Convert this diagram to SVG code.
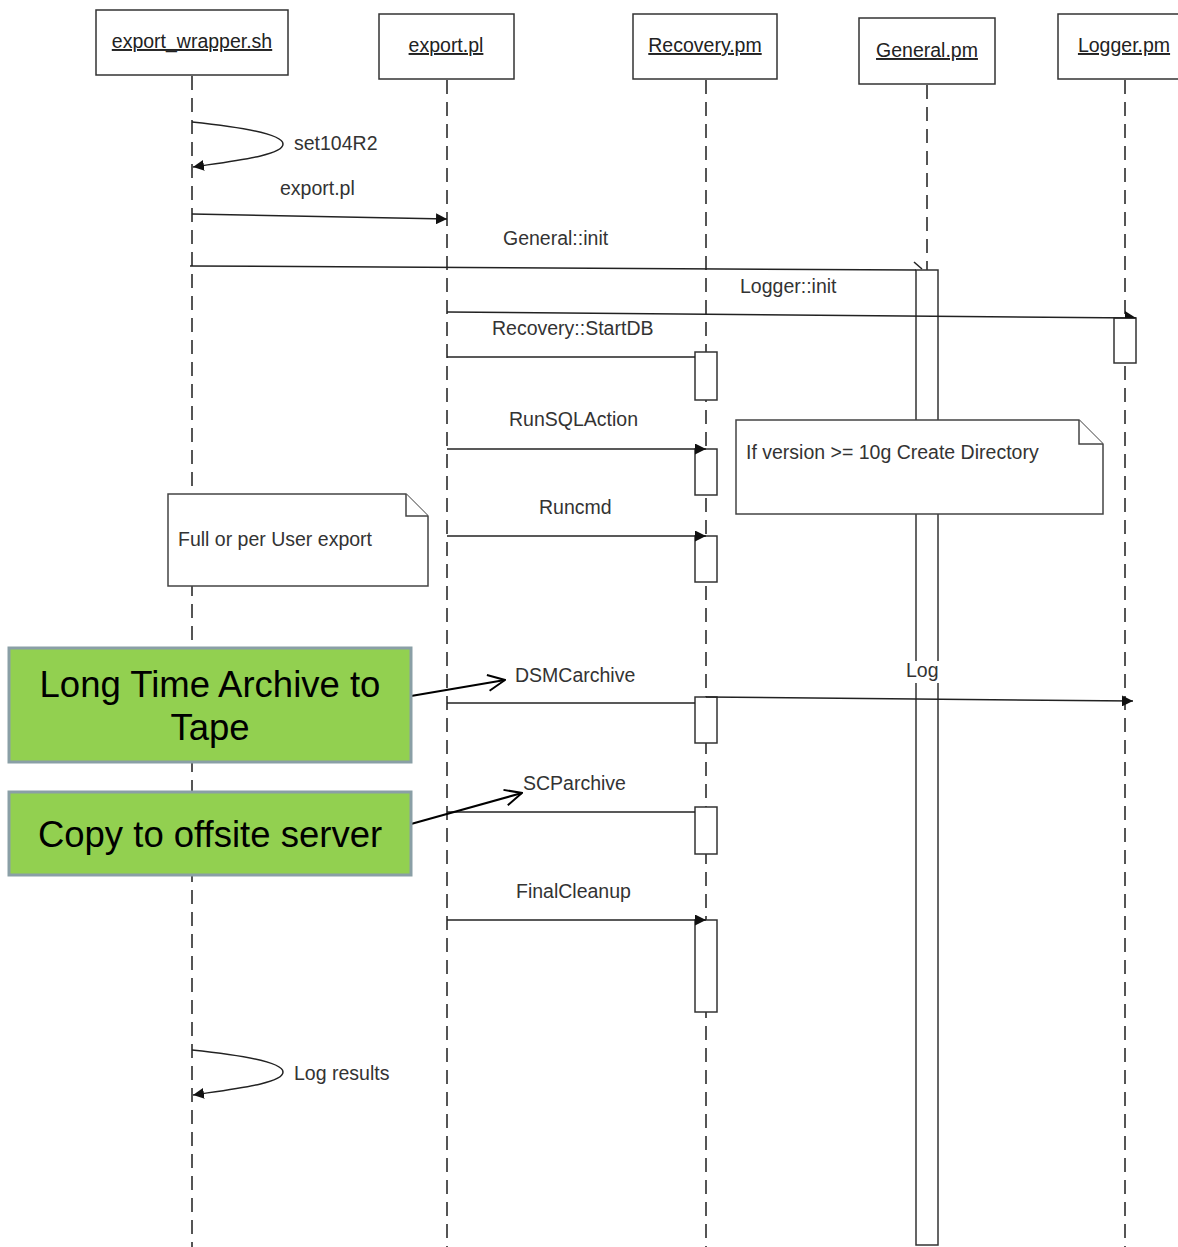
<svg xmlns="http://www.w3.org/2000/svg" width="1178" height="1247" viewBox="0 0 1178 1247">
<style>
.box{fill:#fff;stroke:#333;stroke-width:1.5}
.hdr{font-family:"Liberation Sans",Arial,sans-serif;font-size:19.5px;fill:#222;text-decoration:underline}
.life{stroke:#555;stroke-width:2;stroke-dasharray:14,8;fill:none}
.msg{stroke:#222;stroke-width:1.5;fill:none}
.lbl{font-family:"Liberation Sans",Arial,sans-serif;font-size:19.5px;fill:#333}
.act{fill:#fff;stroke:#333;stroke-width:1.5}
.note{fill:#fff;stroke:#444;stroke-width:1.5}
.green{fill:#92D050;stroke:#8A9FA6;stroke-width:3}
.big{font-family:"Liberation Sans",Arial,sans-serif;font-size:36.5px;fill:#000;text-anchor:middle}
.ptr{stroke:#000;stroke-width:2;fill:none}
</style>
<defs>
<marker id="fa" viewBox="0 0 10 10" refX="10" refY="5" markerWidth="11" markerHeight="11" markerUnits="userSpaceOnUse" orient="auto">
<path d="M0,0 L10,5 L0,10 z" fill="#111"/>
</marker>
<marker id="oa" viewBox="0 0 20 20" refX="19" refY="10" markerWidth="20" markerHeight="20" markerUnits="userSpaceOnUse" orient="auto">
<path d="M2,2 L19,10 L2,18" fill="none" stroke="#000" stroke-width="2"/>
</marker>
</defs>
<rect width="1178" height="1247" fill="#fff"/>
<g id="lifelines">
<line class="life" x1="192" y1="76" x2="192" y2="1247"/>
<line class="life" x1="447" y1="80" x2="447" y2="1247"/>
<line class="life" x1="706" y1="80" x2="706" y2="1247"/>
<line class="life" x1="927" y1="85" x2="927" y2="270"/>
<line class="life" x1="1125" y1="80" x2="1125" y2="1247"/>
</g>
<g id="export_wrapper"><rect class="box" x="96" y="10" width="192" height="65"/><text class="hdr" x="192" y="48" text-anchor="middle">export_wrapper.sh</text></g>
<g id="export_pl"><rect class="box" x="379" y="14" width="135" height="65"/><text class="hdr" x="446" y="52" text-anchor="middle">export.pl</text></g>
<g id="recovery"><rect class="box" x="633" y="14" width="144" height="65"/><text class="hdr" x="705" y="52" text-anchor="middle">Recovery.pm</text></g>
<g id="general"><rect class="box" x="859" y="18" width="136" height="66"/><text class="hdr" x="927" y="57" text-anchor="middle">General.pm</text></g>
<g id="logger"><rect class="box" x="1058" y="14" width="125" height="65"/><text class="hdr" x="1124" y="52" text-anchor="middle">Logger.pm</text></g>
<g id="activations">
<rect class="act" x="916" y="270" width="22" height="975"/>
<rect class="act" x="1114" y="318" width="22" height="45"/>
<rect class="act" x="695" y="352" width="22" height="48"/>
<rect class="act" x="695" y="449" width="22" height="46"/>
<rect class="act" x="695" y="536" width="22" height="46"/>
<rect class="act" x="695" y="697" width="22" height="46"/>
<rect class="act" x="695" y="807" width="22" height="47"/>
<rect class="act" x="695" y="920" width="22" height="92"/>
</g>
<g id="note_full"><path class="note" d="M168,494 H406 L428,516 V586 H168 Z"/><path class="note" d="M406,494 V516 H428" fill="none"/><text class="lbl" x="178" y="546">Full or per User export</text></g>
<g id="note_version"><path class="note" d="M736,420 H1079 L1103,444 V514 H736 Z"/><path class="note" d="M1079,420 V444 H1103" fill="none"/><text class="lbl" x="746" y="459">If version &gt;= 10g Create Directory</text></g>
<g id="connectors">
<path class="msg" d="M192,122 C250,128 283,135 283,144 C283,155 240,160 193,167" marker-end="url(#fa)"/>
<text class="lbl" x="294" y="150">set104R2</text>
<line class="msg" x1="192" y1="214" x2="447" y2="219" marker-end="url(#fa)"/>
<text class="lbl" x="280" y="195">export.pl</text>
<line class="msg" x1="190" y1="266" x2="916" y2="270"/>
<path class="msg" d="M914,262 L922,269" stroke-width="1"/>
<text class="lbl" x="503" y="245">General::init</text>
<line class="msg" x1="447" y1="312" x2="1136" y2="318"/>
<path d="M1125,311 L1136,318 L1125,318 Z" fill="#111"/>
<text class="lbl" x="740" y="293">Logger::init</text>
<line class="msg" x1="447" y1="357" x2="695" y2="357"/>
<text class="lbl" x="492" y="335">Recovery::StartDB</text>
<line class="msg" x1="447" y1="449" x2="706" y2="449" marker-end="url(#fa)"/>
<text class="lbl" x="509" y="426">RunSQLAction</text>
<line class="msg" x1="447" y1="536" x2="706" y2="536" marker-end="url(#fa)"/>
<text class="lbl" x="539" y="514">Runcmd</text>
<line class="msg" x1="447" y1="703" x2="695" y2="703"/>
<text class="lbl" x="515" y="682">DSMCarchive</text>
<line class="msg" x1="706" y1="697" x2="1133" y2="701" marker-end="url(#fa)"/>
<rect x="905" y="661" width="36" height="22" fill="#fff"/>
<text class="lbl" x="906" y="677">Log</text>
<line class="msg" x1="447" y1="812" x2="695" y2="812"/>
<text class="lbl" x="523" y="790">SCParchive</text>
<line class="msg" x1="447" y1="920" x2="706" y2="920" marker-end="url(#fa)"/>
<text class="lbl" x="516" y="898">FinalCleanup</text>
<path class="msg" d="M192,1050 C250,1056 283,1063 283,1072 C283,1083 240,1088 193,1095" marker-end="url(#fa)"/>
<text class="lbl" x="294" y="1080">Log results</text>
<line class="ptr" x1="411" y1="696" x2="505" y2="680" marker-end="url(#oa)"/>
<line class="ptr" x1="411" y1="824" x2="522" y2="793" marker-end="url(#oa)"/>
</g>
<g id="callout_tape"><rect class="green" x="9" y="648" width="402" height="114"/><text class="big" x="210" y="697">Long Time Archive to</text><text class="big" x="210" y="740">Tape</text></g>
<g id="callout_offsite"><rect class="green" x="9" y="792" width="402" height="83"/><text class="big" x="210" y="847">Copy to offsite server</text></g>
</svg>
